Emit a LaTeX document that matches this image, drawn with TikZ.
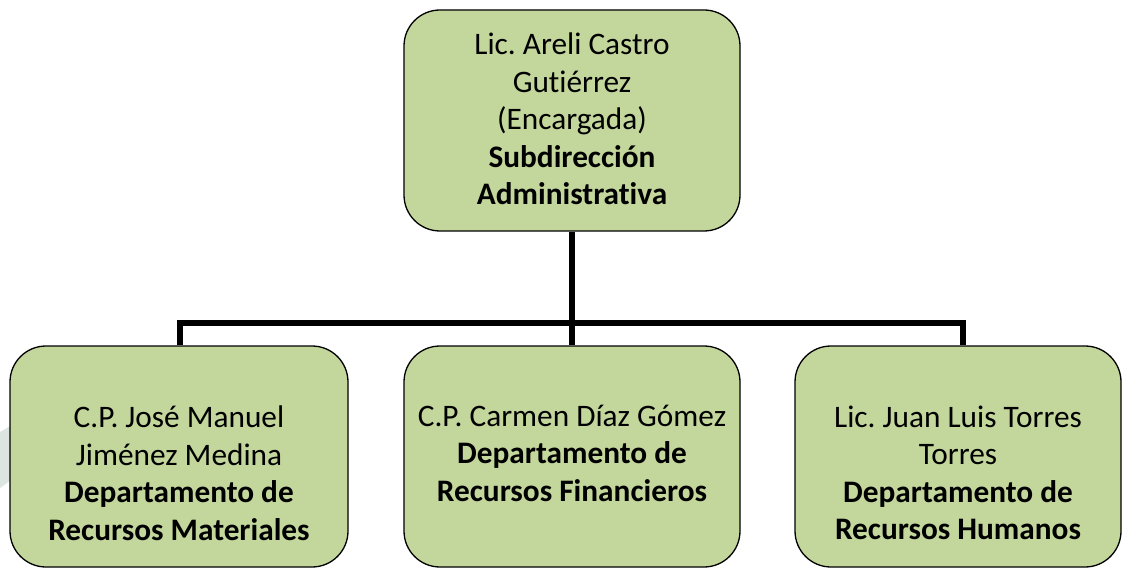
\documentclass[tikz,border=0pt]{standalone}
\usepackage{fontspec}
\setmainfont{Carlito}[Ligatures=NoCommon]
\frenchspacing
\definecolor{boxfill}{HTML}{C3D69B}
\definecolor{ghost}{HTML}{DCE5E0}
\tikzset{
  orgbox/.style={draw=black, line width=1.3pt, fill=boxfill, rounded corners=36pt, inner sep=0pt},
  orgtext/.style={align=center, inner sep=0pt, font=\fontsize{31.3}{37.5}\selectfont},
  conn/.style={draw=black, line width=5.5pt, line join=miter}
}
\begin{document}
\begin{tikzpicture}[x=1pt, y=-1pt]
\useasboundingbox (0,0) rectangle (1123,569);
\fill[ghost] (0,432) -- (14,424) -- (14,478) -- (0,488) -- cycle;
% boxes
\node[orgbox, minimum width=336pt, minimum height=221pt] (top) at (572,120.5) {};
\node[orgbox, minimum width=338pt, minimum height=221pt] (left) at (179,456.5) {};
\node[orgbox, minimum width=336pt, minimum height=221pt] (mid) at (572,456.5) {};
\node[orgbox, minimum width=326pt, minimum height=221pt] (right) at (958,456.5) {};
% connectors
\coordinate (bus) at (572,323);
\coordinate (busL) at (180,323);
\coordinate (busR) at (963,323);
\draw[conn] (top.south) -- (bus);
\draw[conn] (busL |- left.north) -- (busL) -- (busR) -- (busR |- right.north);
\draw[conn] (bus) -- (mid.north);
% texts
\node[orgtext] (topT) at (572,119) {Lic. Areli Castro\\Gutiérrez\\ (Encargada)\\\textbf{Subdirección}\\\textbf{Administrativa}};
\node[orgtext] (leftT) at (179,473) {C.P. José Manuel\\Jiménez Medina\\ \textbf{Departamento de}\\\textbf{Recursos Materiales}};
\node[orgtext] (midT) at (572,453) {C.P. Carmen Díaz Gómez\\\textbf{Departamento de}\\\textbf{Recursos Financieros}};
\node[orgtext] (rightT) at (958,473) {Lic. Juan Luis Torres\\Torres\\\textbf{Departamento de}\\\textbf{Recursos Humanos}};
\end{tikzpicture}
\end{document}
